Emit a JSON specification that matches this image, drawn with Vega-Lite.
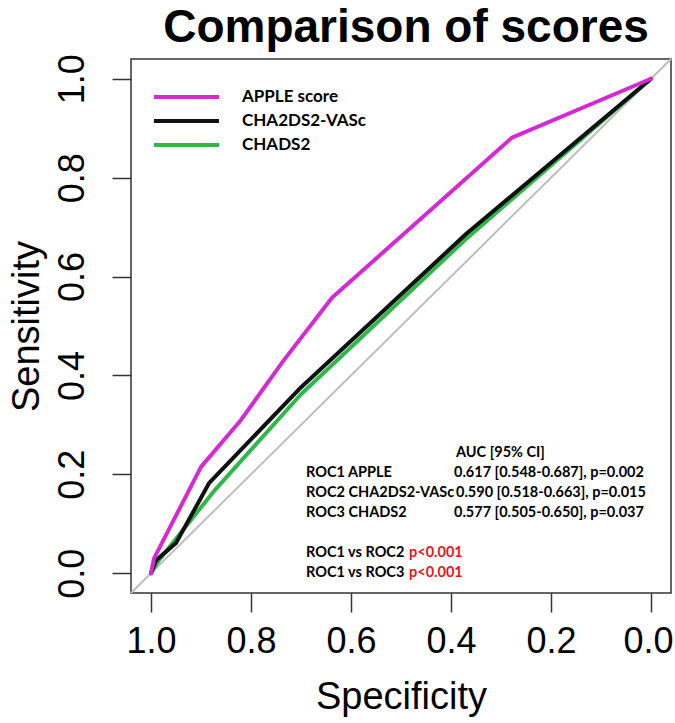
{
  "$schema": "https://vega.github.io/schema/vega-lite/v6.json",
  "width": 540,
  "height": 534,
  "autosize": {"type": "none"},
  "padding": {"left": 131, "top": 59, "right": 4, "bottom": 130},
  "background": "white",
  "config": {"view": {"stroke": "#333333", "strokeWidth": 1.5}, "font": "Liberation Sans"},
  "title": {"text": "Comparison of scores", "font": "Liberation Sans", "fontSize": 46, "fontWeight": "bold", "anchor": "middle", "baseline": "alphabetic", "offset": -34, "dx": 5, "color": "black"},
  "datasets": {
    "diag": [
      {"specificity": 1.04, "sensitivity": -0.04},
      {"specificity": -0.04, "sensitivity": 1.04}
    ],
    "roc": [
      {"score": "CHADS2", "specificity": 1, "sensitivity": 0},
      {"score": "CHADS2", "specificity": 0.985, "sensitivity": 0.025},
      {"score": "CHADS2", "specificity": 0.93, "sensitivity": 0.095},
      {"score": "CHADS2", "specificity": 0.875, "sensitivity": 0.165},
      {"score": "CHADS2", "specificity": 0.70, "sensitivity": 0.362},
      {"score": "CHADS2", "specificity": 0.37, "sensitivity": 0.676},
      {"score": "CHADS2", "specificity": 0, "sensitivity": 1},
      {"score": "CHA2DS2-VASc", "specificity": 1, "sensitivity": 0},
      {"score": "CHA2DS2-VASc", "specificity": 0.99, "sensitivity": 0.026},
      {"score": "CHA2DS2-VASc", "specificity": 0.95, "sensitivity": 0.061},
      {"score": "CHA2DS2-VASc", "specificity": 0.884, "sensitivity": 0.182},
      {"score": "CHA2DS2-VASc", "specificity": 0.704, "sensitivity": 0.372},
      {"score": "CHA2DS2-VASc", "specificity": 0.37, "sensitivity": 0.686},
      {"score": "CHA2DS2-VASc", "specificity": 0, "sensitivity": 1},
      {"score": "APPLE score", "specificity": 1, "sensitivity": 0},
      {"score": "APPLE score", "specificity": 0.994, "sensitivity": 0.03},
      {"score": "APPLE score", "specificity": 0.90, "sensitivity": 0.215},
      {"score": "APPLE score", "specificity": 0.82, "sensitivity": 0.31},
      {"score": "APPLE score", "specificity": 0.735, "sensitivity": 0.43},
      {"score": "APPLE score", "specificity": 0.638, "sensitivity": 0.557},
      {"score": "APPLE score", "specificity": 0.278, "sensitivity": 0.881},
      {"score": "APPLE score", "specificity": 0, "sensitivity": 1}
    ],
    "notes": [
      {"label": "AUC [95% CI]", "specificity": 0.39, "sensitivity": 0.243, "kind": "plain"},
      {"label": "ROC1 APPLE", "specificity": 0.69, "sensitivity": 0.202, "kind": "plain"},
      {"label": "0.617 [0.548-0.687], p=0.002", "specificity": 0.394, "sensitivity": 0.202, "kind": "plain"},
      {"label": "ROC2 CHA2DS2-VASc", "specificity": 0.69, "sensitivity": 0.162, "kind": "plain"},
      {"label": "0.590 [0.518-0.663], p=0.015", "specificity": 0.39, "sensitivity": 0.162, "kind": "plain"},
      {"label": "ROC3 CHADS2", "specificity": 0.69, "sensitivity": 0.121, "kind": "plain"},
      {"label": "0.577 [0.505-0.650], p=0.037", "specificity": 0.394, "sensitivity": 0.121, "kind": "plain"},
      {"label": "ROC1 vs ROC2", "specificity": 0.69, "sensitivity": 0.04, "kind": "plain"},
      {"label": "ROC1 vs ROC3", "specificity": 0.69, "sensitivity": 0.0, "kind": "plain"},
      {"label": "p<0.001", "specificity": 0.484, "sensitivity": 0.04, "kind": "sig"},
      {"label": "p<0.001", "specificity": 0.484, "sensitivity": 0.0, "kind": "sig"}
    ]
  },
  "encoding": {
    "x": {
      "field": "specificity", "type": "quantitative",
      "scale": {"domain": [-0.04, 1.04], "reverse": true, "nice": false, "zero": false},
      "axis": {
        "title": "Specificity", "values": [0, 0.2, 0.4, 0.6, 0.8, 1], "format": ".1f",
        "labelFont": "Liberation Sans", "labelFontSize": 36, "labelColor": "black", "labelFlush": false, "labelOverlap": false,
        "labelOffset": {"condition": {"test": "datum.value === 0", "value": -3}, "value": 0},
        "titleFont": "Liberation Sans", "titleFontSize": 38, "titleFontWeight": "normal", "titleColor": "black",
        "tickSize": 19, "tickColor": "#333333", "tickWidth": 1.5, "labelPadding": 12, "titlePadding": 19,
        "domain": false, "grid": false
      }
    },
    "y": {
      "field": "sensitivity", "type": "quantitative",
      "scale": {"domain": [-0.04, 1.04], "nice": false, "zero": false},
      "axis": {
        "title": "Sensitivity", "values": [0, 0.2, 0.4, 0.6, 0.8, 1], "format": ".1f",
        "labelFont": "Liberation Sans", "labelFontSize": 36, "labelColor": "black", "labelFlush": false, "labelOverlap": false,
        "labelAngle": -90, "labelAlign": "center", "labelBaseline": "bottom",
        "titleFont": "Liberation Sans", "titleFontSize": 38, "titleFontWeight": "normal", "titleColor": "black",
        "tickSize": 19, "tickColor": "#333333", "tickWidth": 1.5, "labelPadding": 21, "titlePadding": 8,
        "domain": false, "grid": false
      }
    }
  },
  "layer": [
    {
      "data": {"name": "diag"},
      "mark": {"type": "line", "color": "#bdbdbd", "strokeWidth": 2},
      "encoding": {}
    },
    {
      "data": {"name": "roc"},
      "mark": {"type": "line", "strokeWidth": 4, "strokeJoin": "round", "strokeCap": "round"},
      "encoding": {
        "color": {
          "field": "score", "type": "nominal",
          "scale": {"domain": ["APPLE score", "CHA2DS2-VASc", "CHADS2"], "range": ["#d42ad4", "#111111", "#2fb84a"]},
          "legend": {
            "title": null, "orient": "none", "legendX": 21, "legendY": 30, "padding": 0,
            "symbolType": "stroke", "symbolSize": 4225, "symbolStrokeWidth": 4, "clipHeight": 16, "rowPadding": 7,
            "labelOffset": 21, "labelFont": "Lato", "labelFontWeight": "bold", "labelFontSize": 17, "labelColor": "black"
          }
        }
      }
    },
    {
      "data": {"name": "notes"},
      "transform": [{"filter": "datum.kind === 'plain'"}],
      "mark": {"type": "text", "align": "left", "baseline": "middle", "font": "Lato", "fontWeight": "bold", "fontSize": 14.5, "color": "black"},
      "encoding": {"text": {"field": "label"}}
    },
    {
      "data": {"name": "notes"},
      "transform": [{"filter": "datum.kind === 'sig'"}],
      "mark": {"type": "text", "align": "left", "baseline": "middle", "font": "Lato", "fontWeight": "bold", "fontSize": 14.5, "color": "#e8161b"},
      "encoding": {"text": {"field": "label"}}
    }
  ]
}
